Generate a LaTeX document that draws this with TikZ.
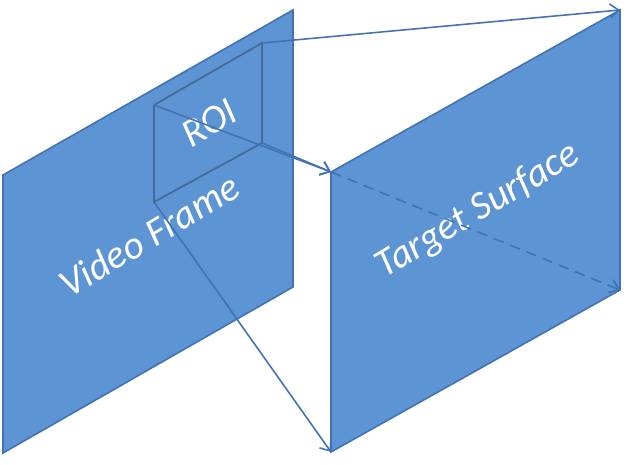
\documentclass[tikz,border=0pt]{standalone}
\usepackage{fontspec}
\setmainfont{Carlito}
\usetikzlibrary{arrows.meta}
\definecolor{planefill}{RGB}{93,148,211}
\definecolor{planeedge}{RGB}{66,114,180}
\definecolor{roiedge}{RGB}{70,106,152}

\begin{document}
\begin{tikzpicture}[x=0.02cm, y=-0.02cm,
  plane/.style={fill=planefill, draw=planeedge, line width=0.9pt},
  ray/.style={draw=planeedge, line width=0.9pt, -{Straight Barb[length=5pt,width=8pt]}},
  planetext/.style={text=white, font=\fontsize{22.5}{26}\selectfont\itshape, rotate=31, inner sep=0pt}]
\useasboundingbox (0,0) rectangle (635,465);

% video frame and its region of interest
\coordinate (vtl) at (3,175);
\coordinate (vtr) at (293,10);
\coordinate (vbr) at (293,287);
\coordinate (vbl) at (3,453);
\coordinate (rtl) at (154,105);
\coordinate (rtr) at (262,43);
\coordinate (rbr) at (262,143);
\coordinate (rbl) at (154,202);
% target surface
\coordinate (ttl) at (331,172);
\coordinate (ttr) at (620,10);
\coordinate (tbr) at (620,290);
\coordinate (tbl) at (331,452);

\draw[plane] (vtl) -- (vtr) -- (vbr) -- (vbl) -- cycle;
\draw[plane, draw=roiedge, line width=1pt] (rtl) -- (rtr) -- (rbr) -- (rbl) -- cycle;
\node[planetext] (roi) at (209,123) {ROI};
\node[planetext] (video) at (149,235) {Video Frame};

\draw[plane] (ttl) -- (ttr) -- (tbr) -- (tbl) -- cycle;
\node[planetext] (target) at (478,211) {Target Surface};

\draw[ray] (rtr) -- (ttr);
\draw[ray] (rtl) -- (ttl);
\draw[ray] (rbl) -- (tbl);
\draw[ray] (rbr) -- (ttl);
\draw[ray, dashed, dash pattern=on 6pt off 4pt] (ttl) -- (tbr);
\end{tikzpicture}
\end{document}
